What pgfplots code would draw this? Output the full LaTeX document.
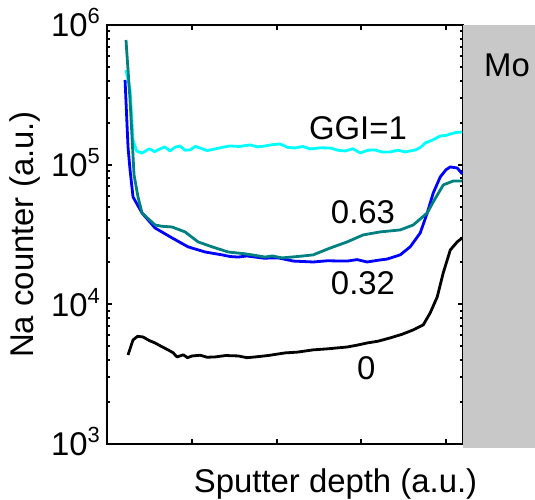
\documentclass[border=0pt]{standalone}
\usepackage{pgfplots}
\pgfplotsset{compat=1.18}
\usepackage{fontspec}
\setmainfont{Liberation Sans}
\definecolor{ccyan}{RGB}{0,255,255}
\definecolor{cteal}{RGB}{0,128,128}
\definecolor{cblue}{RGB}{0,0,255}
\definecolor{cgrey}{RGB}{200,200,200}
\newcommand{\tp}[1]{10\raisebox{13bp}{\fontsize{22}{25}\selectfont #1}}
\begin{document}
\fontsize{33}{39}\selectfont
\begin{tikzpicture}
\useasboundingbox (-107bp,-56bp) rectangle (428bp,444bp);
\begin{axis}[
  at={(0,0)}, anchor=south west,
  scale only axis, width=356bp, height=419bp,
  ymode=log, xmin=0, xmax=4.2, ymin=1e3, ymax=1e6,
  xtick={1,2,3,4}, xticklabels={},
  ytick={1e3,1e4,1e5,1e6}, yticklabels={\tp{3},\tp{4},\tp{5},\tp{6}},
  tick align=inside, major tick length=5bp,
  axis line style={line width=2bp},
  every tick/.style={black, line width=2bp},
  yticklabel style={anchor=base east, yshift=-11.8bp, inner xsep=0pt, xshift=-7bp},
  ylabel={Na counter (a.u.)},
  ylabel style={at={(axis description cs:-0.23,0.5)}, anchor=center},
  xlabel={Sputter depth (a.u.)},
  xlabel style={at={(axis description cs:0.642,0)}, anchor=base, yshift=-49bp},
  no markers,
  every axis plot/.append style={line width=2.8bp, line join=round},
]
\addplot[ccyan] coordinates {
(0.224,4.76e5) (0.272,3.43e5) (0.307,1.50e5) (0.35,1.25e5) (0.413,1.21e5)
(0.50,1.30e5) (0.56,1.24e5) (0.626,1.296e5) (0.68,1.34e5) (0.744,1.253e5) (0.80,1.33e5) (0.862,1.361e5)
(0.92,1.27e5) (0.980,1.274e5) (1.04,1.35e5) (1.098,1.317e5) (1.18,1.26e5) (1.275,1.296e5)
(1.36,1.33e5) (1.452,1.361e5) (1.56,1.35e5) (1.688,1.384e5) (1.78,1.34e5) (1.865,1.361e5)
(1.95,1.39e5) (2.043,1.407e5) (2.13,1.33e5) (2.220,1.317e5) (2.31,1.35e5) (2.397,1.296e5)
(2.52,1.32e5) (2.633,1.317e5) (2.72,1.27e5) (2.810,1.253e5) (2.90,1.30e5) (2.987,1.213e5)
(3.08,1.27e5) (3.164,1.274e5) (3.25,1.23e5) (3.341,1.233e5) (3.43,1.27e5) (3.518,1.233e5)
(3.636,1.274e5) (3.70,1.33e5) (3.754,1.430e5) (3.84,1.50e5) (3.932,1.605e5) (4.00,1.62e5)
(4.050,1.659e5) (4.12,1.70e5) (4.191,1.715e5)
};
\addplot[cblue] coordinates {
(0.213,4.04e5) (0.248,1.34e5) (0.272,9.17e4) (0.307,5.87e4) (0.413,4.51e4) (0.567,3.52e4)
(0.767,2.99e4) (0.956,2.58e4) (1.157,2.37e4) (1.358,2.26e4) (1.45,2.20e4) (1.547,2.18e4) (1.65,2.22e4)
(1.747,2.18e4) (1.85,2.14e4) (2.019,2.15e4) (2.20,2.04e4) (2.432,2.01e4) (2.60,2.05e4) (2.834,2.04e4)
(2.95,2.09e4) (3.070,2.01e4) (3.20,2.07e4) (3.306,2.11e4) (3.459,2.26e4) (3.577,2.58e4)
(3.695,3.24e4) (3.778,4.51e4) (3.849,6.27e4) (3.932,8.17e4) (4.000,9.20e4) (4.050,9.63e4)
(4.132,9.47e4) (4.191,8.58e4)
};
\addplot[cteal] coordinates {
(0.224,7.81e5) (0.272,2.91e5) (0.319,8.44e4) (0.366,5.87e4) (0.413,4.51e4) (0.567,3.70e4)
(0.650,3.62e4) (0.767,3.58e4) (0.921,3.30e4) (1.074,2.80e4) (1.240,2.58e4) (1.429,2.37e4)
(1.629,2.30e4) (1.75,2.24e4) (1.865,2.18e4) (1.95,2.22e4) (2.066,2.15e4) (2.25,2.20e4)
(2.432,2.26e4) (2.633,2.53e4) (2.834,2.80e4) (3.022,3.14e4) (3.223,3.30e4) (3.459,3.41e4)
(3.613,3.70e4) (3.778,4.51e4) (3.849,5.41e4) (3.967,7.16e4) (4.085,7.64e4) (4.191,7.64e4)
};
\addplot[black] coordinates {
(0.248,4.34e3) (0.307,5.56e3) (0.36,5.90e3) (0.425,5.84e3) (0.50,5.50e3) (0.567,5.29e3)
(0.64,5.00e3) (0.720,4.72e3) (0.78,4.50e3) (0.826,4.20e3) (0.90,4.35e3) (0.95,4.15e3)
(1.004,4.27e3) (1.10,4.32e3) (1.18,4.18e3) (1.275,4.20e3) (1.40,4.30e3) (1.547,4.27e3)
(1.65,4.15e3) (1.747,4.20e3) (1.90,4.30e3) (2.102,4.49e3) (2.25,4.55e3) (2.432,4.72e3)
(2.60,4.80e3) (2.834,4.95e3) (2.95,5.10e3) (3.070,5.29e3) (3.20,5.45e3) (3.341,5.75e3)
(3.48,6.10e3) (3.613,6.56e3) (3.731,7.12e3) (3.813,8.68e3) (3.896,1.13e4) (3.967,1.68e4)
(4.050,2.45e4) (4.132,2.80e4) (4.191,2.99e4)
};
\node at (axis cs:2.96,1.83e5) {GGI=1};
\node at (axis cs:3.02,4.58e4) {0.63};
\node at (axis cs:3.02,1.42e4) {0.32};
\node at (axis cs:3.06,3.51e3) {0};
\end{axis}
\fill[cgrey] (356bp,-4bp) rectangle (428bp,419bp);
\node at (400bp,379bp) {Mo};
\end{tikzpicture}
\end{document}
